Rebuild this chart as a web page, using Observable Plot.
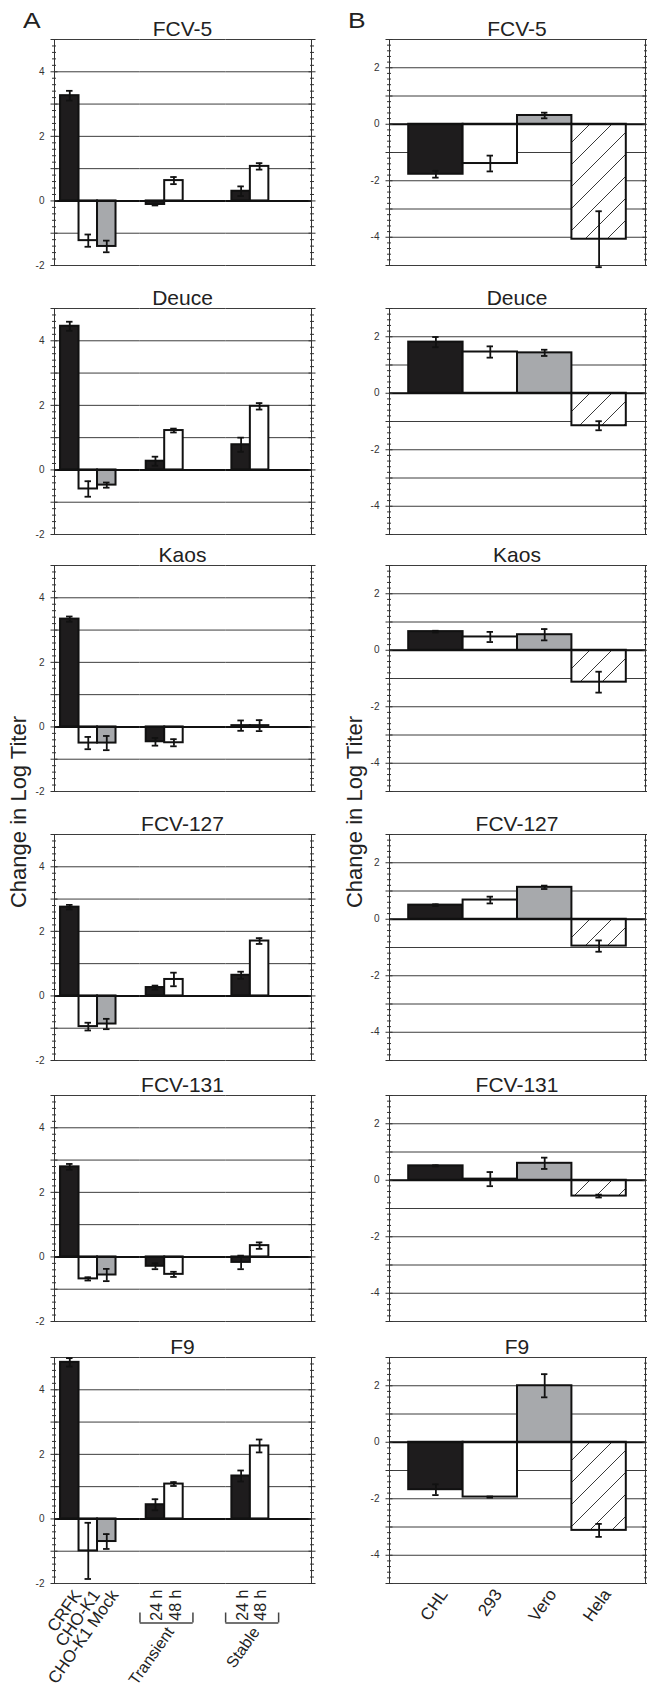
<!DOCTYPE html>
<html><head><meta charset="utf-8">
<script src="https://cdn.jsdelivr.net/npm/d3@7"></script>
<script src="https://cdn.jsdelivr.net/npm/@observablehq/plot@0.6"></script>
<style>
html,body{margin:0;padding:0;background:#fff;}
body{width:647px;height:1686px;position:relative;overflow:hidden;font-family:"Liberation Sans",Arial,sans-serif;color:#222;}
.box{position:absolute;}
.box svg{background:none !important;overflow:visible;}
.title{position:absolute;text-align:center;font-size:21px;line-height:21px;white-space:nowrap;}
.ytitle{position:absolute;width:300px;text-align:center;font-size:22px;line-height:22px;white-space:nowrap;transform:rotate(-90deg);transform-origin:0 0;}
.letter{position:absolute;font-size:22px;line-height:22px;transform:scaleX(1.2);transform-origin:0 0;}
</style></head><body>
<script>
// ---------- data ----------
const viruses = ["FCV-5", "Deuce", "Kaos", "FCV-127", "FCV-131", "F9"];

// Panel A: cell categories
const groupsA = ["Parental", "Transient", "Stable"];
const slotsA = ["first", "second", "third"];
const cellsA = ["CRFK", "CHO-K1", "CHO-K1 Mock", "Transient 24 h", "Transient 48 h", "Stable 24 h", "Stable 48 h"];
const cellGroupA = ["Parental", "Parental", "Parental", "Transient", "Transient", "Stable", "Stable"];
const cellSlotA = ["first", "second", "third", "first", "second", "first", "second"];
const cellLabelA = ["CRFK", "CHO-K1", "CHO-K1 Mock", "24 h", "48 h", "24 h", "48 h"];
const bracketLabelsA = ["Transient", "Stable"];

// Panel A values (change in log titer) and errors
const fcv5A   = [3.26, -1.23, -1.41, -0.11, 0.63, 0.30, 1.07];
const deuceA  = [4.45, -0.59, -0.47, 0.27, 1.22, 0.78, 1.97];
const kaosA   = [3.34, -0.50, -0.50, -0.46, -0.49, 0.04, 0.04];
const fcv127A = [2.75, -0.95, -0.87, 0.26, 0.51, 0.64, 1.70];
const fcv131A = [2.79, -0.68, -0.56, -0.29, -0.54, -0.17, 0.35];
const f9A     = [4.85, -0.99, -0.70, 0.44, 1.08, 1.33, 2.26];
const fcv5ErrA   = [0.15, 0.19, 0.18, 0.03, 0.11, 0.15, 0.10];
const deuceErrA  = [0.14, 0.24, 0.08, 0.14, 0.06, 0.22, 0.10];
const kaosErrA   = [0.08, 0.19, 0.22, 0.12, 0.11, 0.16, 0.17];
const fcv127ErrA = [0.07, 0.12, 0.16, 0.06, 0.21, 0.11, 0.09];
const fcv131ErrA = [0.09, 0.05, 0.19, 0.09, 0.08, 0.21, 0.10];
const f9ErrA     = [0.13, 0.87, 0.23, 0.17, 0.06, 0.17, 0.20];

// Panel B: cell lines
const cellsB = ["CHL", "293", "Vero", "Hela"];
const fcv5B   = [-1.77, -1.39, 0.31, -4.07];
const deuceB  = [1.81, 1.46, 1.43, -1.15];
const kaosB   = [0.66, 0.47, 0.55, -1.13];
const fcv127B = [0.50, 0.68, 1.13, -0.95];
const fcv131B = [0.51, 0.04, 0.60, -0.56];
const f9B     = [-1.68, -1.94, 2.00, -3.12];
const fcv5ErrB   = [0.12, 0.28, 0.10, 0.99];
const deuceErrB  = [0.18, 0.20, 0.11, 0.16];
const kaosErrB   = [0.03, 0.18, 0.20, 0.37];
const fcv127ErrB = [0.03, 0.12, 0.06, 0.20];
const fcv131ErrB = [0.02, 0.25, 0.20, 0.05];
const f9ErrB     = [0.19, 0.02, 0.41, 0.23];

// axes
const yDomainA = [-2, 5];
const yTickLabelsA = [-2, 0, 2, 4];
const yDomainB = [-5, 3];
const yTickLabelsB = [-4, -2, 0, 2];
const yTitle = "Change in Log Titer";
const panelLetters = ["A", "B"];

const valuesA = [fcv5A, deuceA, kaosA, fcv127A, fcv131A, f9A];
const errorsA = [fcv5ErrA, deuceErrA, kaosErrA, fcv127ErrA, fcv131ErrA, f9ErrA];
const valuesB = [fcv5B, deuceB, kaosB, fcv127B, fcv131B, f9B];
const errorsB = [fcv5ErrB, deuceErrB, kaosErrB, fcv127ErrB, fcv131ErrB, f9ErrB];

// ---------- layout ----------
const rowTops = [39, 308, 564.5, 834, 1094.5, 1357];
const FRAME_H = 226, MT = 5, MB = 5, MB_LAST = 110;
const LA = {left: 0, ml: 54, fw: 257, mr: 10};
const LB = {left: 328, ml: 61, fw: 256, mr: 2};
const INK = "#1e1c1d", GRID = "#3d3d3d";
const style = {fontFamily: "'Liberation Sans', Arial, sans-serif", fontSize: "10px", background: "none", overflow: "visible"};
const fmt = d => String(d);

function axisMarks(domain, labels) {
  const k0 = Math.round(domain[0] * 5), k1 = Math.round(domain[1] * 5);
  const minor = d3.range(k0, k1 + 1).filter(k => k % 5 !== 0).map(k => k / 5);
  const major = d3.range(domain[0], domain[1] + 1);
  const blank = () => "";
  return [
    Plot.axisY({ticks: minor, anchor: "left", tickSize: 4, dx: 2, tickFormat: blank, stroke: "#333", label: null}),
    Plot.axisY({ticks: minor, anchor: "right", tickSize: 4, dx: -2, tickFormat: blank, stroke: "#333", label: null}),
    Plot.axisY({ticks: major, anchor: "left", tickSize: 7, dx: 3.5, tickFormat: blank, stroke: "#333", label: null}),
    Plot.axisY({ticks: major, anchor: "right", tickSize: 7, dx: -3.5, tickFormat: blank, stroke: "#333", label: null}),
    Plot.axisY({ticks: labels, anchor: "left", tickSize: 0, tickPadding: 10, tickFormat: fmt, fill: "#333", fontSize: 10, label: null})
  ];
}

function place(el, left, top, w) {
  const d = document.createElement("div");
  d.className = "box";
  d.style.left = left + "px"; d.style.top = top + "px"; d.style.width = w + "px";
  d.appendChild(el);
  document.body.appendChild(d);
}
function addText(cls, text, css) {
  const d = document.createElement("div");
  d.className = cls; d.textContent = text;
  Object.assign(d.style, css);
  document.body.appendChild(d);
}

function panelA(r) {
  const last = r === viruses.length - 1;
  const data = cellsA.map((c, i) => ({cell: c, group: cellGroupA[i], slot: cellSlotA[i], label: cellLabelA[i], value: valuesA[r][i], err: errorsA[r][i]}));
  const brackets = bracketLabelsA.map(g => ({group: g, from: "first", to: "second", label: g}));
  const width = LA.ml + LA.fw + LA.mr;
  const mb = last ? MB_LAST : MB;
  const marks = [
    Plot.ruleY(d3.range(yDomainA[0], yDomainA[1] + 1), {stroke: GRID, strokeWidth: 1}),
    Plot.frame({anchor: "left", facetAnchor: "left", stroke: "#333"}),
    Plot.frame({anchor: "right", facetAnchor: "right", stroke: "#333"}),
    Plot.barY(data, {fx: "group", x: "slot", y1: 0, y2: "value", fill: "slot", stroke: "#111", strokeWidth: 2}),
    Plot.ruleY([0], {stroke: "#111", strokeWidth: 2}),
    Plot.ruleX(data, {fx: "group", x: "slot", y1: d => d.value - d.err, y2: d => d.value + d.err, stroke: "#111", strokeWidth: 1.8}),
    Plot.tickY(data, {fx: "group", x: "slot", y: d => d.value + d.err, insetLeft: 6, insetRight: 6, stroke: "#111", strokeWidth: 1.8}),
    Plot.tickY(data, {fx: "group", x: "slot", y: d => d.value - d.err, insetLeft: 6, insetRight: 6, stroke: "#111", strokeWidth: 1.8}),
    ...axisMarks(yDomainA, yTickLabelsA)
  ];
  if (last) {
    marks.push(
      Plot.text(data.filter(d => d.group === "Parental"), {fx: "group", x: "slot", text: "label", frameAnchor: "bottom", lineAnchor: "middle", rotate: -55, textAnchor: "end", dx: 8, dy: 8.5, fontSize: 17, fill: "#222"}),
      Plot.text(data.filter(d => d.group !== "Parental"), {fx: "group", x: "slot", text: "label", frameAnchor: "bottom", lineAnchor: "middle", rotate: -90, textAnchor: "end", dx: 1.5, dy: 6, fontSize: 16, fill: "#222"}),
      Plot.ruleY(brackets, {fx: "group", x1: "from", x2: "to", y: () => yDomainA[0], dy: 39.5, insetLeft: -6, insetRight: -10, stroke: "#444", strokeWidth: 1.5}),
      Plot.ruleX(brackets, {fx: "group", x: "from", y1: () => yDomainA[0], y2: () => yDomainA[0], dy: 29.5, insetBottom: -10, dx: -15.5, stroke: "#444", strokeWidth: 1.5}),
      Plot.ruleX(brackets, {fx: "group", x: "to", y1: () => yDomainA[0], y2: () => yDomainA[0], dy: 29.5, insetBottom: -10, dx: 19, stroke: "#444", strokeWidth: 1.5}),
      Plot.text(brackets, {fx: "group", x: "to", text: "label", frameAnchor: "bottom", lineAnchor: "middle", rotate: -55, textAnchor: "end", dx: -3.5, dy: 45.5, fontSize: 16, fill: "#222"})
    );
  }
  const svg = Plot.plot({
    width, height: MT + FRAME_H + mb,
    marginLeft: LA.ml, marginRight: LA.mr, marginTop: MT, marginBottom: mb,
    fx: {domain: groupsA, paddingInner: 0, paddingOuter: 0, round: false, axis: null, label: null},
    x: {domain: slotsA, paddingInner: 0, paddingOuter: 0.816, align: 0.2, round: false, axis: null, label: null},
    y: {domain: yDomainA, label: null},
    color: {type: "ordinal", domain: slotsA, range: [INK, "#ffffff", "#a7a9ac"]},
    style,
    marks
  });
  place(svg, LA.left, rowTops[r] - MT, width);
}

function panelB(r) {
  const last = r === viruses.length - 1;
  const id = "hatchB" + r;
  const data = cellsB.map((c, i) => ({cell: c, value: valuesB[r][i], err: errorsB[r][i]}));
  const width = LB.ml + LB.fw + LB.mr;
  const mb = last ? MB_LAST : MB;
  const marks = [
    Plot.ruleY(d3.range(yDomainB[0], yDomainB[1] + 1), {stroke: GRID, strokeWidth: 1}),
    Plot.frame({anchor: "left", stroke: "#333"}),
    Plot.frame({anchor: "right", stroke: "#333"}),
    Plot.barY(data, {x: "cell", y1: 0, y2: "value", fill: "cell", stroke: "#111", strokeWidth: 2}),
    Plot.ruleY([0], {stroke: "#111", strokeWidth: 2}),
    Plot.ruleX(data, {x: "cell", y1: d => d.value - d.err, y2: d => d.value + d.err, stroke: "#111", strokeWidth: 1.8}),
    Plot.tickY(data, {x: "cell", y: d => d.value + d.err, insetLeft: 24, insetRight: 24, stroke: "#111", strokeWidth: 1.8}),
    Plot.tickY(data, {x: "cell", y: d => d.value - d.err, insetLeft: 24, insetRight: 24, stroke: "#111", strokeWidth: 1.8}),
    ...axisMarks(yDomainB, yTickLabelsB)
  ];
  if (last) {
    marks.push(Plot.text(data, {x: "cell", text: "cell", frameAnchor: "bottom", lineAnchor: "middle", rotate: -55, textAnchor: "end", dx: 8, dy: 7.5, fontSize: 17, fill: "#222"}));
  }
  const svg = Plot.plot({
    width, height: MT + FRAME_H + mb,
    marginLeft: LB.ml, marginRight: LB.mr, marginTop: MT, marginBottom: mb,
    x: {domain: cellsB, paddingInner: 0, paddingOuter: 0.353, align: 0.5, round: false, axis: null, label: null},
    y: {domain: yDomainB, label: null},
    color: {type: "ordinal", domain: cellsB, range: [INK, "#ffffff", "#a7a9ac", `url(#${id})`]},
    style,
    marks
  });
  svg.insertAdjacentHTML("afterbegin",
    `<defs><pattern id="${id}" patternUnits="userSpaceOnUse" width="22" height="22">` +
    `<rect width="22" height="22" fill="#fff"/>` +
    `<path d="M-5.5,5.5L5.5,-5.5M0,22L22,0M16.5,27.5L27.5,16.5" stroke="#3a3a3a" stroke-width="1"/></pattern></defs>`);
  place(svg, LB.left, rowTops[r] - MT, width);
}

viruses.forEach((v, r) => {
  panelA(r);
  panelB(r);
  addText("title", v, {left: (LA.left + LA.ml) + "px", width: LA.fw + "px", top: (rowTops[r] - 21) + "px"});
  addText("title", v, {left: (LB.left + LB.ml) + "px", width: LB.fw + "px", top: (rowTops[r] - 21) + "px"});
});
addText("ytitle", yTitle, {left: "8px", top: "962px"});
addText("ytitle", yTitle, {left: "344px", top: "962px"});
addText("letter", panelLetters[0], {left: "23px", top: "9.5px"});
addText("letter", panelLetters[1], {left: "348px", top: "9.5px"});
</script>
</body></html>
